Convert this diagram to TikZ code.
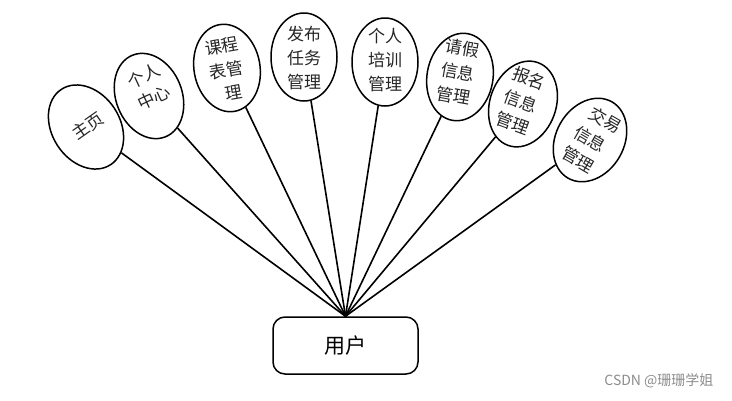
\documentclass[tikz,border=0pt]{standalone}
\usepackage{fontspec}
\setmainfont{Noto Sans CJK SC}
\usetikzlibrary{shapes.geometric}
\tikzset{
  bubble/.style={draw=black, line width=1.5pt, ellipse, minimum width=66pt, minimum height=88pt, inner sep=0pt, fill=white},
  btext/.style={align=center, font=\fontsize{17}{24}\selectfont, inner sep=0pt, text=black!85},
  link/.style={line width=1.6pt, black},
  userbox/.style={draw=black, line width=1.5pt, rounded corners=12pt, minimum width=145pt, minimum height=57pt, fill=white, font=\fontsize{21}{24}\selectfont}
}
\begin{document}
\begin{tikzpicture}[x=1pt,y=-1pt]
\useasboundingbox (0,0) rectangle (732,400);
\node[userbox] (user) at (345.5,345.5) {用户};
\node[bubble, rotate=33, minimum width=68pt, minimum height=90pt] (e1) at (86,127) {};
\node[bubble, rotate=22] (e2) at (149,96) {};
\node[bubble, rotate=10] (e3) at (227,68) {};
\node[bubble, rotate=0] (e4) at (304,57) {};
\node[bubble, rotate=0] (e5) at (385,62) {};
\node[bubble, rotate=-10] (e6) at (460,77) {};
\node[bubble, rotate=-20] (e7) at (523,104) {};
\node[bubble, rotate=-30, minimum width=68pt] (e8) at (590,140) {};
\foreach \i in {1,...,8} {\draw[link] (e\i) -- (user.north);}
\node[btext, rotate=35] (t1) at (88,126) {主页};
\node[btext, rotate=25] (t2) at (149,87) {个人\\中心};
\node[btext, rotate=10] (t3) at (226,70) {课程\\表管\\\ \ 理};
\node[btext] (t4) at (304,58) {发布\\任务\\管理};
\node[btext] (t5) at (385,60) {个人\\培训\\管理};
\node[btext, rotate=-10] (t6) at (458,72) {请假\\信息\\管理};
\node[btext, rotate=-20] (t7) at (521,101) {报名\\信息\\管理};
\node[btext, rotate=-30] (t8) at (590,139) {\ \ 交易\\信息\\管理};
\node[font=\fontsize{14}{16}\selectfont, text=black!45, anchor=east] (wm) at (717,381) {CSDN @珊珊学姐};
\end{tikzpicture}
\end{document}
